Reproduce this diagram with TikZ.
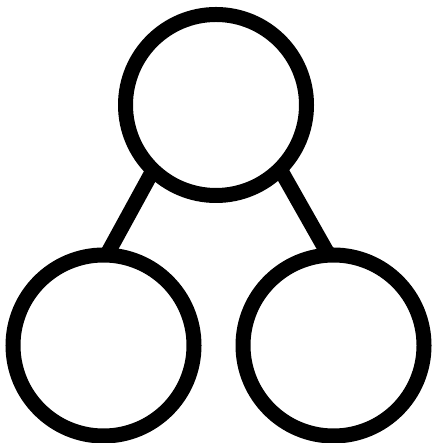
\documentclass[tikz,border=0pt]{standalone}
\begin{document}
\begin{tikzpicture}[x=1pt,y=1pt,
  ring/.style={circle,draw=black,line width=15pt,minimum size=181pt,inner sep=0pt,outer sep=0pt},
  link/.style={draw=black,line width=15pt}]
\useasboundingbox (0,0) rectangle (432,443);
\node[ring] (top) at (216,338) {};
\node[ring] (bl) at (103.5,97.5) {};
\node[ring] (br) at (333.5,97.5) {};
\draw[link] (top.226) -- (bl.88);
\draw[link] (top.-45) -- (br.93);
\end{tikzpicture}
\end{document}
